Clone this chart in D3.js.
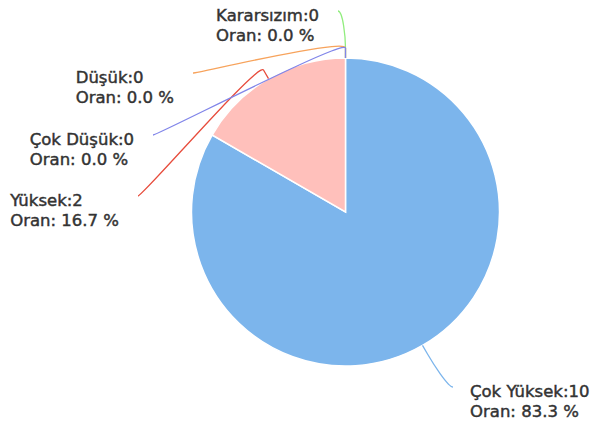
<!DOCTYPE html>
<html>
<head>
<meta charset="utf-8">
<script src="https://cdn.jsdelivr.net/npm/d3@7"></script>
<style>
  html,body{margin:0;padding:0;background:#fff;}
  svg{display:block;}
</style>
</head>
<body>
<svg id="chart" width="597" height="426"></svg>
<script>
// veri
const categories=['Çok Yüksek','Yüksek','Çok Düşük','Düşük','Kararsızım']
const counts=[10,2,0,0,0]
const sliceColors=['#7cb5ec','#ffc0bb','#8085e9','#f7a35c','#90ed7d']
const lineColors=['#7cb5ec','#e74c3c','#8085e9','#f7a35c','#90ed7d']
// etiket bağlantı noktaları (yerleşim)
const labelAnchors=[[453,387,'left'],[138,196,'right'],[153,135,'right'],[193,73,'right'],[338,11,'right']]

const cx=345.5,cy=212,r=154
const svg=d3.select('#chart')
const total=d3.sum(counts)
const rows=categories.map((c,i)=>({name:c,value:counts[i],i}))

const pie=d3.pie().sort(null).value(d=>d.value).startAngle(0).endAngle(2*Math.PI)
const arcs=pie(rows)
const arc=d3.arc().innerRadius(0).outerRadius(r)
const edgeArc=d3.arc().innerRadius(r).outerRadius(r)
const breakArc=d3.arc().innerRadius(r+10).outerRadius(r+10)

const g=svg.append('g').attr('transform',`translate(${cx},${cy})`)
g.selectAll('path.slice')
  .data(arcs.filter(d=>d.value>0))
  .enter().append('path')
  .attr('class','slice')
  .attr('d',arc)
  .attr('fill',d=>sliceColors[d.data.i])
  .attr('stroke','#fff')
  .attr('stroke-width',1.5)

// bağlantı çizgileri
const connectors=svg.append('g').attr('transform',`translate(${cx},${cy})`)
const order=[4,3,0,1,2]
order.forEach(i=>{
  const d=arcs[i]
  const t=edgeArc.centroid(d)
  const b=breakArc.centroid(d)
  const a=labelAnchors[i]
  const lx=a[0]-cx,ly=a[1]-cy
  const c1=lx+(a[2]==='left'?-5:5)
  const p=d3.path()
  p.moveTo(lx,ly)
  p.bezierCurveTo(c1,ly,2*b[0]-t[0],2*b[1]-t[1],b[0],b[1])
  p.lineTo(t[0],t[1])
  connectors.append('path')
    .attr('d',p.toString())
    .attr('fill','none')
    .attr('stroke',lineColors[i])
    .attr('stroke-width',1.3)
})

// etiketler
rows.forEach((d,i)=>{
  const a=labelAnchors[i]
  const lg=svg.append('g')
  const lines=[d.name+':'+d.value,'Oran: '+(total?d.value/total*100:0).toFixed(1)+' %']
  const texts=lines.map((s,k)=>lg.append('text')
    .attr('x',0)
    .attr('y',a[1]+10+k*19.5)
    .attr('font-family','DejaVu Sans, sans-serif')
    .attr('font-size',16.5)
    .attr('fill','#333')
    .attr('stroke','#333')
    .attr('stroke-width',0.45)
    .text(s))
  const w=d3.max(texts,t=>t.node().getComputedTextLength())
  const x0=a[2]==='left'?a[0]+17:a[0]-19-w
  lg.attr('transform',`translate(${x0},0)`)
})
</script>
</body>
</html>
